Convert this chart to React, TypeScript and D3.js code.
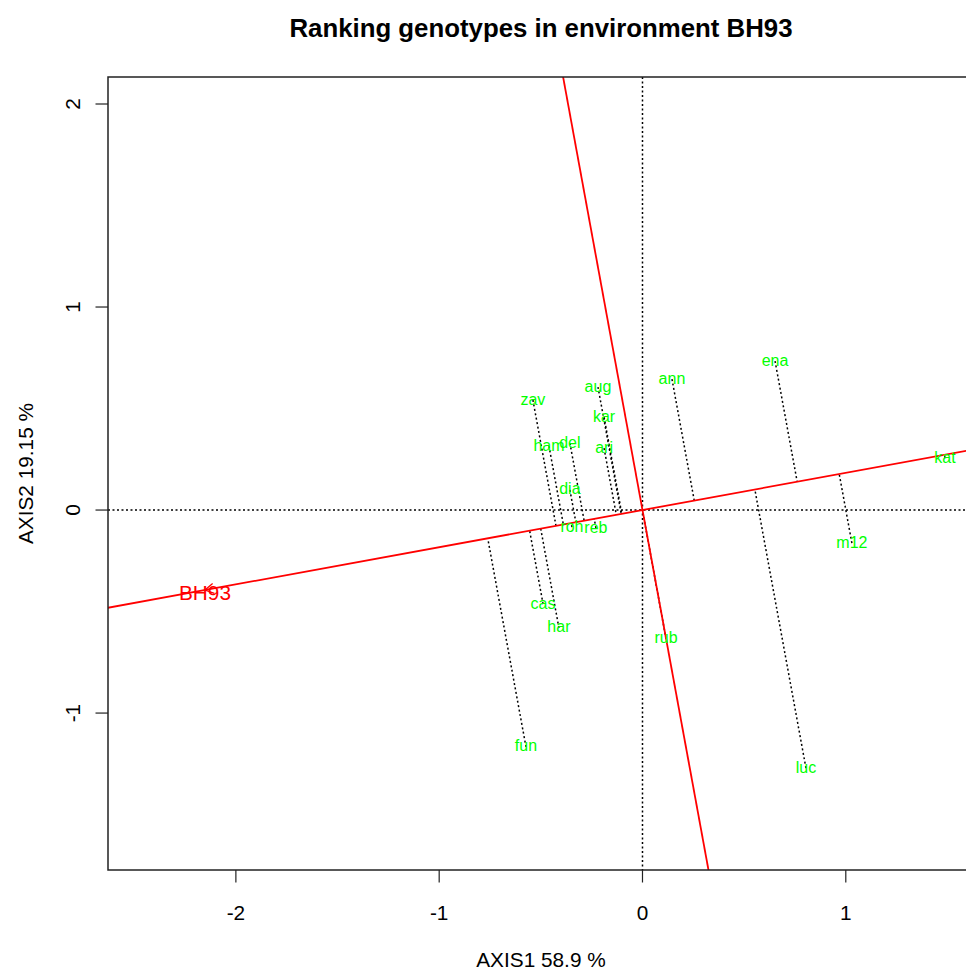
import React from "react";
import * as d3 from "d3";

// ---- data ----
const genotypes = ["zav", "aug", "kar", "ham", "del", "ari", "dia", "roh", "reb", "ann", "ena", "kat", "m12", "cas", "har", "fun", "rub", "luc"];
const axis1 = [-0.539, -0.219, -0.189, -0.460, -0.357, -0.189, -0.357, -0.347, -0.229, 0.145, 0.652, 1.488, 1.030, -0.489, -0.411, -0.573, 0.116, 0.804];
const axis2 = [0.542, 0.606, 0.458, 0.315, 0.330, 0.305, 0.099, -0.084, -0.089, 0.645, 0.734, 0.256, -0.163, -0.463, -0.581, -1.167, -0.635, -1.271];
const envName = "BH93";
const envX = -2.152;
const envY = -0.394;
const xTicks = [-2, -1, 0, 1];
const yTicks = [-1, 0, 1, 2];
const xDomain = [-2.629, 1.6306];
const yDomain = [-1.773, 2.133];
const titleText = "Ranking genotypes in environment BH93";
const xLabel = "AXIS1 58.9 %";
const yLabel = "AXIS2 19.15 %";

const W = 966;
const H = 971;
const L = 108, R = 974, T = 77, B = 870;
const FONT = "'Liberation Sans', Arial, Helvetica, sans-serif";

export default function App() {
  const x = d3.scaleLinear().domain(xDomain).range([L, R]);
  const y = d3.scaleLinear().domain(yDomain).range([B, T]);

  const len = Math.hypot(envX, envY);
  const ux = envX / len, uy = envY / len;
  const big = 10;
  const aea = d3.line()([[x(-big * ux), y(-big * uy)], [x(big * ux), y(big * uy)]]);
  const perp = d3.line()([[x(-big * uy), y(big * ux)], [x(big * uy), y(-big * ux)]]);

  const pts = genotypes.map((g, i) => {
    const d = axis1[i] * ux + axis2[i] * uy;
    return { g, px: axis1[i], py: axis2[i], qx: d * ux, qy: d * uy };
  });

  // arrowhead at environment
  const ex = x(envX), ey = y(envY);
  const ang = Math.atan2(ey - y(0), ex - x(0));
  const ah = 10;
  const a1 = [ex - ah * Math.cos(ang - Math.PI / 6), ey - ah * Math.sin(ang - Math.PI / 6)];
  const a2 = [ex - ah * Math.cos(ang + Math.PI / 6), ey - ah * Math.sin(ang + Math.PI / 6)];

  const dot = { stroke: "#000", strokeWidth: 1.5, strokeDasharray: "2 2.5" };

  return (
    <svg width={W} height={H} style={{ position: "absolute", left: 0, top: 0, background: "#fff" }} fontFamily={FONT}>
      <defs>
        <clipPath id="plotclip">
          <rect x={L} y={T} width={R - L} height={B - T} />
        </clipPath>
      </defs>
      <rect x={0} y={0} width={W} height={H} fill="#fff" />
      <text x={(L + R) / 2} y={37} textAnchor="middle" fontSize={25.8} fontWeight="bold" fill="#000">{titleText}</text>

      <g clipPath="url(#plotclip)">
        <line x1={L} x2={R} y1={y(0)} y2={y(0)} {...dot} />
        <line x1={x(0)} x2={x(0)} y1={T} y2={B} {...dot} />
        {pts.map((p) => (
          <line key={"l" + p.g} x1={x(p.px)} y1={y(p.py)} x2={x(p.qx)} y2={y(p.qy)} {...dot} />
        ))}
        <path d={aea || ""} stroke="#ff0000" strokeWidth={1.8} fill="none" />
        <path d={perp || ""} stroke="#ff0000" strokeWidth={1.8} fill="none" />
        <polyline points={`${a1[0]},${a1[1]} ${ex},${ey} ${a2[0]},${a2[1]}`} stroke="#ff0000" strokeWidth={1.3} fill="none" />
        <text x={ex} y={ey + 10} textAnchor="middle" fontSize={20.8} fill="#ff0000">{envName}</text>
        {pts.map((p) => (
          <text key={"t" + p.g} x={x(p.px)} y={y(p.py) + 4.5} textAnchor="middle" fontSize={16} fill="#00ff00">{p.g}</text>
        ))}
      </g>

      <rect x={L} y={T} width={R - L} height={B - T} fill="none" stroke="#222" strokeWidth={1.5} />

      {xTicks.map((t) => (
        <g key={"xt" + t}>
          <line x1={x(t)} x2={x(t)} y1={B} y2={B + 12.5} stroke="#222" strokeWidth={1.2} />
          <text x={x(t)} y={920} textAnchor="middle" fontSize={20.8} fill="#000">{t}</text>
        </g>
      ))}
      {yTicks.map((t) => (
        <g key={"yt" + t}>
          <line x1={L} x2={L - 12.5} y1={y(t)} y2={y(t)} stroke="#222" strokeWidth={1.2} />
          <text transform={`translate(80,${y(t)}) rotate(-90)`} textAnchor="middle" fontSize={20.8} fill="#000">{t}</text>
        </g>
      ))}
      <text x={(L + R) / 2} y={967} textAnchor="middle" fontSize={20.8} fill="#000">{xLabel}</text>
      <text transform={`translate(33,${(T + B) / 2}) rotate(-90)`} textAnchor="middle" fontSize={20.8} fill="#000">{yLabel}</text>
    </svg>
  );
}
